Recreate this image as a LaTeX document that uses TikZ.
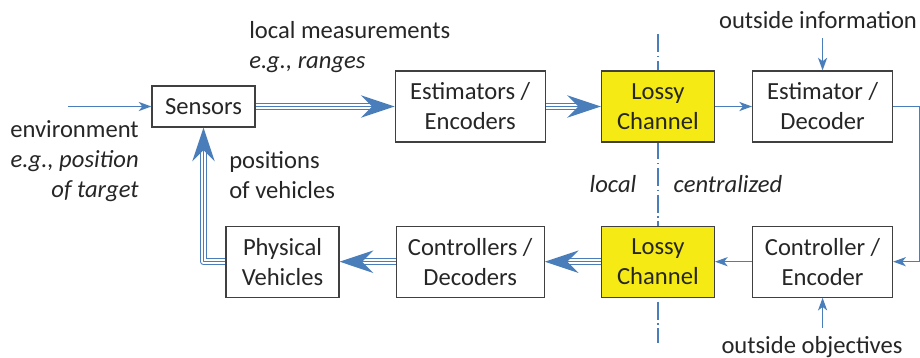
\documentclass[tikz,border=0pt]{standalone}
\usepackage{fontspec}
\setmainfont{Carlito}
\usetikzlibrary{positioning,arrows.meta,backgrounds}
\definecolor{lineblue}{RGB}{74,126,187}
\definecolor{chanyellow}{RGB}{245,234,20}
\definecolor{boxgray}{RGB}{64,64,64}
\definecolor{txtgray}{RGB}{38,38,38}
\tikzset{
 block/.style={draw=boxgray, line width=0.85pt, fill=white, align=center,
  minimum height=1.775cm, inner sep=2pt},
 channel/.style={block, fill=chanyellow},
 note/.style={inner sep=0pt},
 thinarrow/.style={draw=lineblue, line width=1pt,
  -{Stealth[length=9pt, width=6.5pt, inset=2.5pt]}},
 triple/.style={
  % outer blue, white gap, thin blue core; tip only on the last pass
  draw=lineblue, line width=5.2pt, line join=round, shorten >=15pt,
  postaction={draw=white, line width=3.2pt, shorten >=15pt},
  postaction={draw=lineblue, line width=1pt, shorten >=0pt,
   -{Stealth[length=24pt, width=16pt, inset=8pt]}}
 },
 divider/.style={draw=lineblue, line width=1.1pt,
  dash pattern=on 12.8pt off 2.6pt on 1pt off 2.6pt},
}
\begin{document}
\begin{tikzpicture}[every node/.style={text=txtgray, font=\fontsize{17.5}{21.3}\selectfont}]
 \useasboundingbox (0,0) rectangle (23,-8.95);

 % upper row
 \node[block, minimum width=2.575cm, minimum height=1.025cm] (sens) at (5.0875,-2.6625) {Sensors};
 \node[block, minimum width=3.75cm, right=3.475cm of sens] (est) {Estimators /\\Encoders};
 \node[channel, minimum width=2.825cm, right=1.375cm of est] (lossyA) {Lossy\\Channel};
 \node[block, minimum width=3.5cm, right=0.925cm of lossyA] (estdec) {Estimator /\\Decoder};

 % lower row
 \node[block, minimum width=3.7cm, below=2.075cm of est] (ctrl) {Controllers /\\Decoders};
 \node[channel, minimum width=2.825cm, below=2.075cm of lossyA] (lossyB) {Lossy\\Channel};
 \node[block, minimum width=3.5cm, below=2.075cm of estdec] (ctrlenc) {Controller /\\Encoder};
 \node[block, minimum width=2.825cm, left=1.4cm of ctrl] (phys) {Physical\\Vehicles};

 % texts
 \node[note, align=left, anchor=west] (meas) at (6.225,-1.175) {local measurements\\\textit{e.g., ranges}};
 \node[note, align=right, anchor=east] (envtext) at (3.475,-4.025) {environment\\\textit{e.g., position}\\\textit{of target}};
 \node[note, align=left, anchor=west] (vehtext) at (5.725,-4.3875) {positions\\of vehicles};
 \node[note] (infotext) at (20.45,-0.5) {outside information};
 \node[note] (objtext) at (20.3,-8.675) {outside objectives};
 \node[note] (localtext) at (15.325,-4.6) {\textit{local}};
 \node[note] (centtext) at (18.2,-4.6) {\textit{centralized}};

 \coordinate[left=2.075cm of sens.west] (envin);
 \coordinate[above=0.8cm of estdec.north] (infoin);
 \coordinate[below=0.75cm of ctrlenc.south] (objin);

 \begin{scope}[on background layer]
  \draw[divider] ([yshift=0.9cm]lossyA.north) -- ([yshift=-1.125cm]lossyB.south);
 \end{scope}

 \draw[thinarrow] (envin) -- (sens.west);
 \draw[triple] (sens.east) -- (est.west);
 \draw[triple] (est.east) -- (lossyA.west);
 \draw[thinarrow] (lossyA.east) -- (estdec.west);
 \draw[thinarrow] (infoin) -- (estdec.north);
 \draw[thinarrow] (estdec.east) -- ++(0.675,0) |- (ctrlenc.east);
 \draw[thinarrow] (objin) -- (ctrlenc.south);
 \draw[thinarrow] (ctrlenc.west) -- (lossyB.east);
 \draw[triple] (lossyB.west) -- (ctrl.east);
 \draw[triple] (ctrl.west) -- (phys.east);
 \draw[triple] (phys.west) -| (sens.south);
\end{tikzpicture}
\end{document}
